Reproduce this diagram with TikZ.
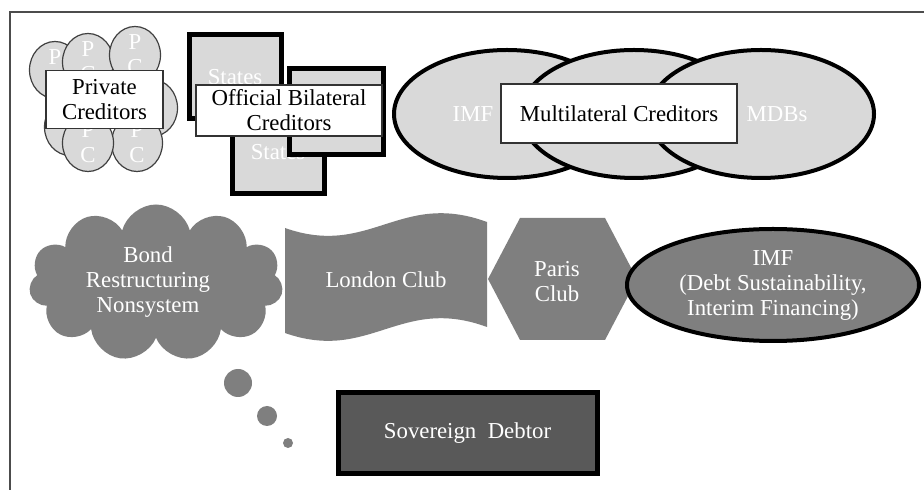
\documentclass[tikz,border=0pt]{standalone}
\usepackage{fontspec}
\setmainfont{Liberation Serif}
\usepackage{tikz}
\usetikzlibrary{shapes.geometric,shapes.symbols}
\definecolor{grisclair}{HTML}{D9D9D9}
\definecolor{grismoyen}{HTML}{7F7F7F}
\definecolor{grisfonce}{HTML}{595959}

\begin{document}
\begin{tikzpicture}[x=0.5pt,y=-0.5pt]
% Styles (MODIFIABLES)
\tikzstyle{texte}=[font=\fontsize{11.4pt}{12.5pt}\selectfont,align=center]
\tikzstyle{blanc}=[texte,text=white]
\tikzstyle{pc}=[blanc,ellipse,draw=black!75,line width=0.6pt,fill=grisclair,minimum width=25.5pt,minimum height=28.5pt,inner sep=0pt]
\tikzstyle{etat}=[blanc,rectangle,draw=black,line width=2.5pt,fill=grisclair,minimum width=46pt,minimum height=42pt,inner sep=0pt]
\tikzstyle{multi}=[ellipse,draw=black,line width=2pt,fill=grisclair,minimum width=113pt,minimum height=64pt,inner sep=0pt]
\tikzstyle{etiquette}=[texte,rectangle,draw=black!80,line width=0.7pt,fill=white,inner sep=0pt]
\tikzstyle{forme}=[fill=grismoyen]
\tikzstyle{bulle}=[circle,fill=grismoyen,inner sep=0pt]
% Cadre
\useasboundingbox (0,0) rectangle (924,490);
\draw[black!70,line width=1pt] (10,490) -- (10,12) -- (924,12);
% Creanciers prives
\node[pc] (PCh) at (105,92) {P\\C};
\node[pc] (PCg) at (70,127) {P\\C};
\node[pc] (PCa) at (55,70) {P\\C};
\node[pc] (PCb) at (88,62) {P\\C};
\node[pc] (PCc) at (135,55) {P\\C};
\node[pc] (PCd) at (152,108) {P\\C};
\node[pc] (PCe) at (137,143) {P\\C};
\node[pc] (PCf) at (88,143) {P\\C};
\node[etiquette,minimum width=58.5pt,minimum height=29pt] (Prives) at (104.5,99.5) {Private\\Creditors};
% Creanciers bilateraux
\node[etat] (EtatA) at (235,77) {States};
\node[etat] (EtatB) at (278,152) {States};
\node[etat,minimum width=47pt,minimum height=43pt] (EtatC) at (336.5,112) {States};
\node[etiquette,minimum width=93pt,minimum height=25.5pt] (Bilateraux) at (289,110.5) {Official Bilateral\\Creditors};
% Creanciers multilateraux
\node[multi] (MultiA) at (507,114) {};
\node[multi] (MultiB) at (634,114) {};
\node[multi] (MultiC) at (761,114) {};
\node[blanc] (FMItxt) at (473,114) {IMF};
\node[blanc] (BMDtxt) at (777,114) {MDBs};
\node[etiquette,minimum width=118pt,minimum height=29.5pt] (Multilateraux) at (619,113.5) {Multilateral Creditors};
% Forums de restructuration
\node[blanc,cloud,cloud puffs=11,aspect=1.6,fill=grismoyen,minimum width=127pt,minimum height=78.5pt,inner sep=0pt] (Obligations) at (156,283) {};
\node[blanc] (Obligtxt) at (148,282) {Bond\\Restructuring\\Nonsystem};
\fill[forme] (285,228) .. controls (370,258) and (400,190) .. (487,222) -- (487,327) .. controls (400,295) and (370,363) .. (285,333) -- cycle;
\node[blanc] (Londres) at (386,280) {London Club};
\fill[forme] (488,279) -- (520,218) -- (605,218) -- (637,279) -- (605,340) -- (520,340) -- cycle;
\node[blanc] (Paris) at (557,282) {Paris\\Club};
\node[blanc,ellipse,draw=black,line width=2pt,fill=grismoyen,minimum width=146pt,minimum height=56pt,inner sep=0pt] (FMI) at (773,285) {IMF\\(Debt Sustainability,\\Interim Financing)};
% Bulles et debiteur
\node[bulle,minimum size=14pt] (BulleA) at (238,383) {};
\node[bulle,minimum size=10pt] (BulleB) at (267,416) {};
\node[bulle,minimum size=5pt] (BulleC) at (288,443) {};
\node[blanc,rectangle,draw=black,line width=2.5pt,fill=grisfonce,minimum width=129.5pt,minimum height=40pt,inner sep=0pt] (Debiteur) at (467.5,433) {Sovereign\ \ Debtor};
\end{tikzpicture}
\end{document}
